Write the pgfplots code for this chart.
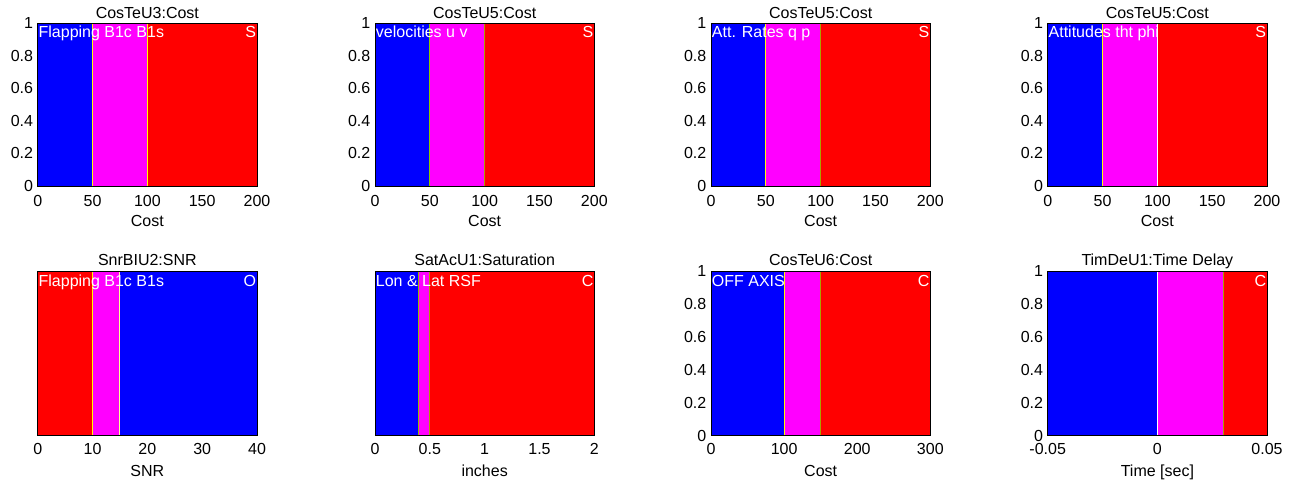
\documentclass[border=0pt]{standalone}
\usepackage{pgfplots}
\pgfplotsset{compat=1.18}
\usepackage{fontspec}
\setmainfont{Liberation Sans}

\definecolor{segblue}{RGB}{0,0,255}
\definecolor{segmagenta}{RGB}{255,0,255}
\definecolor{segred}{RGB}{255,0,0}
\definecolor{lineyellow}{RGB}{255,255,0}
\definecolor{lineolive}{RGB}{170,160,0}
\definecolor{linegreen}{RGB}{140,200,0}
\definecolor{linepale}{RGB}{255,255,150}
\definecolor{linewhite}{RGB}{255,255,255}

\tikzset{
  lbl/.style={anchor=base west, text=white, inner sep=0pt, xshift=0.5pt},
  rlbl/.style={anchor=base east, text=white, inner sep=0pt, xshift=-0.5pt},
}

\pgfplotsset{
  every axis title/.style={at={(axis description cs:0.5,1)}, anchor=base, inner sep=0pt, yshift=3.75pt},
  panel/.style={
    scale only axis,
    width=164.48pt,
    anchor=north west,
    ymin=0, ymax=1,
    axis on top,
    major tick length=0pt,
    minor tick num=0,
    scaled x ticks=false,
    scaled y ticks=false,
    axis line style={line width=0.6pt},
    ytick={0,0.2,0.4,0.6,0.8,1},
    yticklabels={0,0.2,0.4,0.6,0.8,1},
    xlabel style={at={(axis description cs:0.5,0)}, anchor=base, inner sep=0pt, yshift=-30.6pt},
    yticklabel style={anchor=east, inner sep=0pt, xshift=-3.3pt},
    xticklabel style={anchor=base, inner sep=0pt},
    no markers,
  },
  toprow/.style={panel, height=122pt, xticklabel style={yshift=-15.5pt}},
  botrow/.style={panel, height=123.5pt, xticklabel style={yshift=-14.5pt}},
  seg/.style={draw=none, fill=#1},
  edge/.style={color=#1, line width=0.75pt},
}

\begin{document}
\fontsize{12}{14}\selectfont
\begin{tikzpicture}
\path[use as bounding box] (0,0) rectangle (969.75pt,363pt);

% ---------------- top row ----------------
\begin{axis}[toprow, at={(28.28pt,345.53pt)}, title={CosTeU3:Cost}, xlabel={Cost},
  xmin=0, xmax=200, xtick={0,50,100,150,200}, xticklabels={0,50,100,150,200}]
  \addplot[seg=segblue]    coordinates {(0,0) (0,1) (50,1) (50,0)};
  \addplot[seg=segmagenta] coordinates {(50,0) (50,1) (100,1) (100,0)};
  \addplot[seg=segred]     coordinates {(100,0) (100,1) (200,1) (200,0)};
  \addplot[edge=lineyellow] coordinates {(50,0) (50,1)};
  \addplot[edge=lineyellow] coordinates {(100,0) (100,1)};
  \node[lbl, yshift=-10.9pt] at (rel axis cs:0,1) {Flapping B1c B1s};
  \node[rlbl, yshift=-10.9pt] at (rel axis cs:1,1) {S};
\end{axis}

\begin{axis}[toprow, at={(281.25pt,345.53pt)}, title={CosTeU5:Cost}, xlabel={Cost},
  xmin=0, xmax=200, xtick={0,50,100,150,200}, xticklabels={0,50,100,150,200}]
  \addplot[seg=segblue]    coordinates {(0,0) (0,1) (50,1) (50,0)};
  \addplot[seg=segmagenta] coordinates {(50,0) (50,1) (100,1) (100,0)};
  \addplot[seg=segred]     coordinates {(100,0) (100,1) (200,1) (200,0)};
  \addplot[edge=linegreen] coordinates {(50,0) (50,1)};
  \addplot[edge=lineolive] coordinates {(100,0) (100,1)};
  \node[lbl, yshift=-10.9pt] at (rel axis cs:0,1) {velocities u v};
  \node[rlbl, yshift=-10.9pt] at (rel axis cs:1,1) {S};
\end{axis}

\begin{axis}[toprow, at={(533.25pt,345.53pt)}, title={CosTeU5:Cost}, xlabel={Cost},
  xmin=0, xmax=200, xtick={0,50,100,150,200}, xticklabels={0,50,100,150,200}]
  \addplot[seg=segblue]    coordinates {(0,0) (0,1) (50,1) (50,0)};
  \addplot[seg=segmagenta] coordinates {(50,0) (50,1) (100,1) (100,0)};
  \addplot[seg=segred]     coordinates {(100,0) (100,1) (200,1) (200,0)};
  \addplot[edge=lineyellow] coordinates {(50,0) (50,1)};
  \addplot[edge=lineolive]  coordinates {(100,0) (100,1)};
  \node[lbl, yshift=-10.9pt] at (rel axis cs:0,1) {Att. Rates q p};
  \node[rlbl, yshift=-10.9pt] at (rel axis cs:1,1) {S};
\end{axis}

\begin{axis}[toprow, at={(785.78pt,345.53pt)}, title={CosTeU5:Cost}, xlabel={Cost},
  xmin=0, xmax=200, xtick={0,50,100,150,200}, xticklabels={0,50,100,150,200}]
  \addplot[seg=segblue]    coordinates {(0,0) (0,1) (50,1) (50,0)};
  \addplot[seg=segmagenta] coordinates {(50,0) (50,1) (100,1) (100,0)};
  \addplot[seg=segred]     coordinates {(100,0) (100,1) (200,1) (200,0)};
  \addplot[edge=lineyellow] coordinates {(50,0) (50,1)};
  \addplot[edge=linewhite]  coordinates {(100,0) (100,1)};
  \node[lbl, yshift=-10.9pt] at (rel axis cs:0,1) {Attitudes tht phi};
  \node[rlbl, yshift=-10.9pt] at (rel axis cs:1,1) {S};
\end{axis}

% ---------------- bottom row ----------------
\begin{axis}[botrow, at={(28.28pt,159.75pt)}, title={SnrBIU2:SNR}, xlabel={SNR},
  xmin=0, xmax=40, xtick={0,10,20,30,40}, xticklabels={0,10,20,30,40},
  ytick=\empty]
  \addplot[seg=segred]     coordinates {(0,0) (0,1) (10,1) (10,0)};
  \addplot[seg=segmagenta] coordinates {(10,0) (10,1) (15,1) (15,0)};
  \addplot[seg=segblue]    coordinates {(15,0) (15,1) (40,1) (40,0)};
  \addplot[edge=lineyellow] coordinates {(10,0) (10,1)};
  \addplot[edge=linepale]   coordinates {(15,0) (15,1)};
  \node[lbl, yshift=-11.6pt] at (rel axis cs:0,1) {Flapping B1c B1s};
  \node[rlbl, yshift=-11.6pt] at (rel axis cs:1,1) {O};
\end{axis}

\begin{axis}[botrow, at={(281.25pt,159.75pt)}, title={SatAcU1:Saturation}, xlabel={inches},
  xmin=0, xmax=2, xtick={0,0.5,1,1.5,2}, xticklabels={0,0.5,1,1.5,2},
  ytick=\empty]
  \addplot[seg=segblue]    coordinates {(0,0) (0,1) (0.4,1) (0.4,0)};
  \addplot[seg=segmagenta] coordinates {(0.4,0) (0.4,1) (0.5,1) (0.5,0)};
  \addplot[seg=segred]     coordinates {(0.5,0) (0.5,1) (2,1) (2,0)};
  \addplot[edge=linegreen!60!lineolive] coordinates {(0.4,0) (0.4,1)};
  \addplot[edge=lineolive] coordinates {(0.5,0) (0.5,1)};
  \node[lbl, yshift=-11.6pt] at (rel axis cs:0,1) {Lon \& Lat RSF};
  \node[rlbl, yshift=-11.6pt] at (rel axis cs:1,1) {C};
\end{axis}

\begin{axis}[botrow, at={(533.25pt,159.75pt)}, title={CosTeU6:Cost}, xlabel={Cost},
  xmin=0, xmax=300, xtick={0,100,200,300}, xticklabels={0,100,200,300}]
  \addplot[seg=segblue]    coordinates {(0,0) (0,1) (100,1) (100,0)};
  \addplot[seg=segmagenta] coordinates {(100,0) (100,1) (150,1) (150,0)};
  \addplot[seg=segred]     coordinates {(150,0) (150,1) (300,1) (300,0)};
  \addplot[edge=lineyellow] coordinates {(100,0) (100,1)};
  \addplot[edge=lineolive]  coordinates {(150,0) (150,1)};
  \node[lbl, yshift=-11.6pt] at (rel axis cs:0,1) {OFF AXIS};
  \node[rlbl, yshift=-11.6pt] at (rel axis cs:1,1) {C};
\end{axis}

\begin{axis}[botrow, at={(785.78pt,159.75pt)}, title={TimDeU1:Time Delay}, xlabel={Time [sec]},
  xmin=-0.05, xmax=0.05, xtick={-0.05,0,0.05}, xticklabels={-0.05,0,0.05}]
  \addplot[seg=segblue]    coordinates {(-0.05,0) (-0.05,1) (0,1) (0,0)};
  \addplot[seg=segmagenta] coordinates {(0,0) (0,1) (0.03,1) (0.03,0)};
  \addplot[seg=segred]     coordinates {(0.03,0) (0.03,1) (0.05,1) (0.05,0)};
  \addplot[edge=linewhite] coordinates {(0,0) (0,1)};
  \addplot[edge=lineolive] coordinates {(0.03,0) (0.03,1)};
  \node[rlbl, yshift=-11.6pt] at (rel axis cs:1,1) {C};
\end{axis}
\end{tikzpicture}
\end{document}
